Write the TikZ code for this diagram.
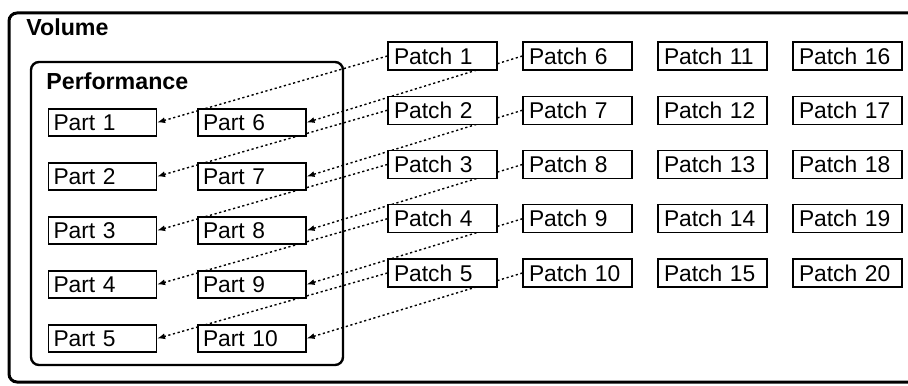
\documentclass[tikz,border=0pt]{standalone}
\usepackage{fontspec}
\setmainfont{Liberation Sans}
\usetikzlibrary{arrows.meta,backgrounds}

\tikzset{
  partbox/.style={draw, line width=0.6pt, fill=white, minimum height=13.5pt,
    text width=49pt, inner xsep=2.5pt, inner ysep=0pt, align=left},
  patchbox/.style={partbox, minimum height=14pt, text width=48.5pt, inner xsep=3pt},
  title/.style={anchor=base west, inner sep=0pt, font=\fontsize{11.6}{13}\selectfont\bfseries},
  link/.style={line width=0.7pt, dash pattern=on 1.1pt off 1.3pt,
    -{Latex[length=4pt,width=3pt]}}
}

\begin{document}
\begin{tikzpicture}[x=0.5pt, y=-0.5pt, font=\fontsize{11.4}{13}\selectfont]
  \useasboundingbox (0,0) rectangle (908,385);
  \clip (0,0) rectangle (908,385);

  % Volume frame
  \draw[line width=1.5pt, rounded corners=4pt] (9,13) rectangle (930,382);
  \node[title] (volume) at (26,36) {Volume};

  % Performance frame
  \draw[line width=1.2pt, rounded corners=4pt] (31,62) rectangle (343,365);
  \node[title] (perf) at (46,90) {Performance};

  % Parts
  \foreach \i in {1,...,5} {
    \pgfmathtruncatemacro\k{\i+5}
    \node[partbox] (part\i) at (102.5,{122.5+54*(\i-1)}) {Part \i};
    \node[partbox] (part\k) at (252,{122.5+54*(\i-1)}) {Part \k};
  }

  % Patches
  \foreach \c in {0,...,3}
    \foreach \r in {1,...,5} {
      \pgfmathtruncatemacro\n{5*\c+\r}
      \node[patchbox] (patch\n) at ({442.5+135*\c},{56+54.25*(\r-1)}) {Patch \n};
    }

  % Patch -> Part assignment
  \begin{scope}[on background layer]
    \foreach \n in {1,...,10}
      \draw[link] (patch\n.west) -- (part\n.east);
  \end{scope}
\end{tikzpicture}
\end{document}
